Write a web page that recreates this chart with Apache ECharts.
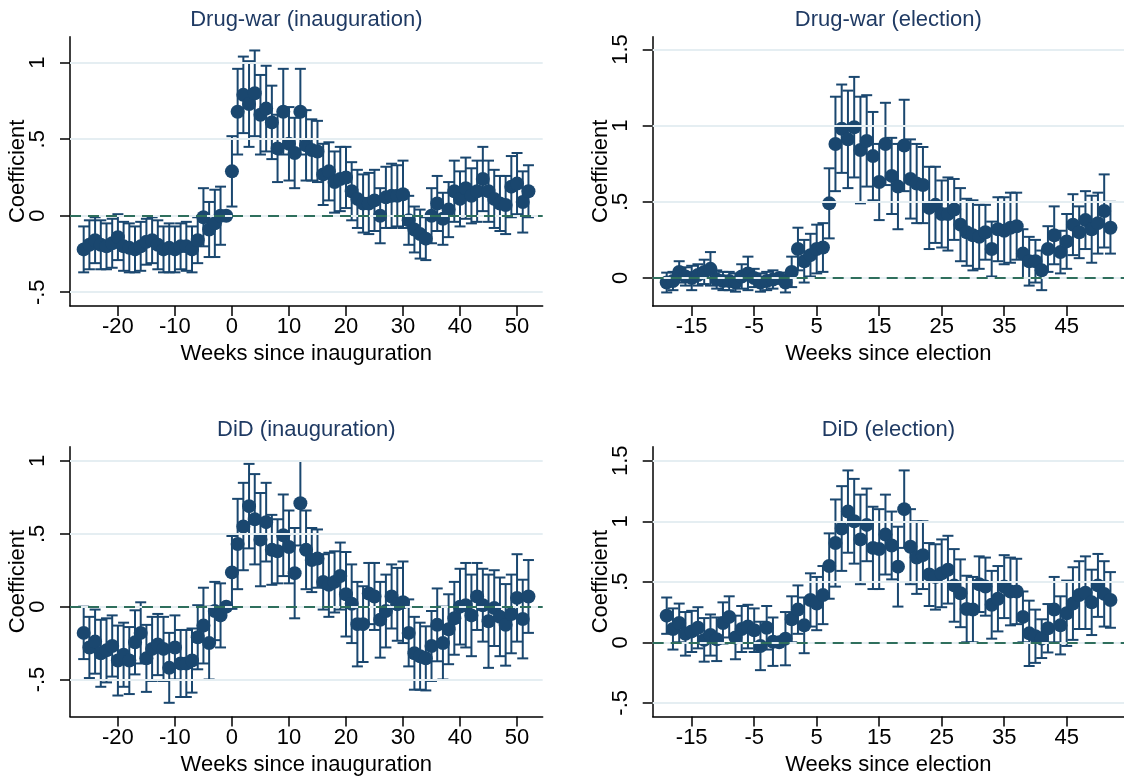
<!DOCTYPE html>
<html><head><meta charset="utf-8">
<script src="https://cdn.jsdelivr.net/npm/echarts@6/dist/echarts.min.js"></script>
<style>html,body{margin:0;padding:0;background:#fff}#c{width:1124px;height:780px}</style>
</head><body><div id="c"></div><script>
// ---------- data ----------
const weeksInaug = [-26,-25,-24,-23,-22,-21,-20,-19,-18,-17,-16,-15,-14,-13,-12,-11,-10,-9,-8,-7,-6,-5,-4,-3,-2,-1,0,1,2,3,4,5,6,7,8,9,10,11,12,13,14,15,16,17,18,19,20,21,22,23,24,25,26,27,28,29,30,31,32,33,34,35,36,37,38,39,40,41,42,43,44,45,46,47,48,49,50,51,52];
const weeksElect = [-19,-18,-17,-16,-15,-14,-13,-12,-11,-10,-9,-8,-7,-6,-5,-4,-3,-2,-1,0,1,2,3,4,5,6,7,8,9,10,11,12,13,14,15,16,17,18,19,20,21,22,23,24,25,26,27,28,29,30,31,32,33,34,35,36,37,38,39,40,41,42,43,44,45,46,47,48,49,50,51,52];

// Drug-war (inauguration): coefficient and 95% CI half-width
const drugInaugCoef = [-0.22,-0.19,-0.16,-0.19,-0.20,-0.18,-0.14,-0.20,-0.21,-0.22,-0.20,-0.17,-0.16,-0.19,-0.22,-0.21,-0.22,-0.20,-0.20,-0.22,-0.16,-0.01,-0.09,-0.05,0.00,0.00,0.29,0.68,0.79,0.73,0.80,0.66,0.70,0.61,0.44,0.68,0.47,0.41,0.68,0.46,0.43,0.42,0.27,0.29,0.22,0.24,0.25,0.16,0.11,0.08,0.08,0.10,0.00,0.12,0.13,0.13,0.14,-0.03,-0.09,-0.12,-0.15,0.00,0.08,-0.02,0.04,0.16,0.11,0.18,0.13,0.16,0.24,0.16,0.11,0.08,0.07,0.19,0.21,0.09,0.16];
const drugInaugCI = [0.15,0.16,0.15,0.16,0.15,0.16,0.15,0.16,0.16,0.15,0.16,0.15,0.15,0.16,0.15,0.16,0.15,0.15,0.16,0.15,0.15,0.19,0.18,0.22,0.19,0.00,0.23,0.28,0.25,0.28,0.28,0.26,0.28,0.24,0.22,0.28,0.24,0.23,0.28,0.23,0.20,0.20,0.20,0.19,0.20,0.21,0.20,0.19,0.19,0.19,0.20,0.20,0.18,0.20,0.21,0.20,0.22,0.16,0.15,0.16,0.14,0.18,0.18,0.17,0.18,0.20,0.18,0.20,0.18,0.20,0.21,0.20,0.19,0.18,0.19,0.20,0.20,0.20,0.17];

// Drug-war (election)
const drugElectCoef = [-0.03,-0.02,0.04,0.01,0.00,0.02,0.04,0.06,-0.01,-0.02,-0.02,-0.03,0.01,0.03,0.00,-0.03,-0.02,-0.01,0.00,-0.03,0.04,0.19,0.11,0.15,0.19,0.20,0.49,0.88,0.98,0.91,0.99,0.84,0.90,0.80,0.63,0.88,0.67,0.60,0.87,0.65,0.62,0.61,0.46,0.48,0.42,0.42,0.45,0.35,0.30,0.28,0.27,0.30,0.19,0.32,0.31,0.33,0.34,0.16,0.11,0.11,0.05,0.19,0.28,0.17,0.24,0.35,0.30,0.38,0.32,0.36,0.44,0.33];
const drugElectCI = [0.065,0.06,0.07,0.06,0.08,0.07,0.08,0.11,0.06,0.06,0.06,0.06,0.08,0.11,0.06,0.06,0.06,0.06,0.00,0.065,0.10,0.14,0.14,0.14,0.16,0.16,0.23,0.31,0.29,0.32,0.33,0.35,0.30,0.29,0.25,0.27,0.25,0.28,0.30,0.26,0.26,0.25,0.27,0.25,0.22,0.24,0.20,0.24,0.22,0.23,0.21,0.18,0.18,0.21,0.22,0.23,0.22,0.16,0.16,0.14,0.13,0.15,0.19,0.14,0.18,0.20,0.17,0.19,0.22,0.20,0.24,0.17];

// DiD (inauguration)
const didInaugCoef = [-0.18,-0.28,-0.24,-0.32,-0.30,-0.27,-0.37,-0.33,-0.37,-0.245,-0.18,-0.355,-0.29,-0.26,-0.29,-0.42,-0.28,-0.39,-0.39,-0.37,-0.21,-0.13,-0.25,-0.03,-0.06,0.00,0.235,0.43,0.55,0.69,0.60,0.46,0.58,0.39,0.38,0.49,0.41,0.23,0.71,0.39,0.32,0.33,0.17,0.15,0.17,0.21,0.085,0.02,-0.12,-0.12,0.09,0.07,-0.09,-0.03,0.07,0.016,0.03,-0.18,-0.32,-0.34,-0.355,-0.27,-0.125,-0.25,-0.155,-0.08,0.00,0.01,-0.06,0.07,0.01,-0.10,-0.01,-0.07,-0.125,-0.05,0.06,-0.085,0.07];
const didInaugCI = [0.18,0.21,0.22,0.23,0.22,0.21,0.24,0.22,0.23,0.22,0.21,0.23,0.22,0.21,0.22,0.24,0.22,0.23,0.23,0.22,0.22,0.26,0.25,0.20,0.22,0.00,0.25,0.31,0.30,0.29,0.31,0.32,0.27,0.24,0.22,0.28,0.25,0.31,0.29,0.27,0.22,0.20,0.19,0.22,0.21,0.23,0.29,0.27,0.29,0.26,0.21,0.23,0.26,0.25,0.22,0.25,0.28,0.23,0.25,0.23,0.22,0.24,0.25,0.25,0.24,0.25,0.26,0.29,0.28,0.23,0.25,0.32,0.26,0.27,0.28,0.27,0.30,0.27,0.25];

// DiD (election)
const didElectCoef = [0.22,0.11,0.16,0.07,0.09,0.12,0.02,0.06,0.025,0.16,0.21,0.04,0.11,0.13,0.10,-0.03,0.12,0.005,0.00,0.03,0.19,0.27,0.14,0.35,0.32,0.39,0.63,0.82,0.94,1.08,1.00,0.85,0.97,0.78,0.77,0.89,0.80,0.625,1.10,0.79,0.70,0.72,0.56,0.54,0.57,0.60,0.47,0.405,0.275,0.27,0.48,0.46,0.31,0.36,0.46,0.42,0.42,0.21,0.074,0.05,0.03,0.116,0.27,0.14,0.24,0.32,0.39,0.41,0.33,0.47,0.40,0.35];
const didElectCI = [0.15,0.17,0.16,0.18,0.17,0.17,0.18,0.17,0.18,0.17,0.17,0.18,0.19,0.18,0.18,0.20,0.18,0.20,0.00,0.22,0.19,0.20,0.23,0.22,0.22,0.24,0.27,0.36,0.35,0.34,0.35,0.37,0.30,0.34,0.33,0.33,0.28,0.33,0.32,0.31,0.30,0.28,0.26,0.27,0.28,0.28,0.30,0.28,0.275,0.27,0.23,0.24,0.28,0.27,0.26,0.28,0.27,0.21,0.27,0.22,0.16,0.20,0.27,0.24,0.27,0.30,0.28,0.30,0.27,0.26,0.27,0.23];

const xTicksInaug = [-20,-10,0,10,20,30,40,50];
const xTicksElect = [-15,-5,5,15,25,35,45];
const yTicksP1 = [-0.5,0,0.5,1];
const yTicksP2 = [0,0.5,1,1.5];
const yTicksP3 = [-0.5,0,0.5,1];
const yTicksP4 = [-0.5,0,0.5,1,1.5];

const titles = ['Drug-war (inauguration)','Drug-war (election)','DiD (inauguration)','DiD (election)'];
const xNames = ['Weeks since inauguration','Weeks since election','Weeks since inauguration','Weeks since election'];
const yName = 'Coefficient';

// ---------- layout / style ----------
const FONT = '"Liberation Sans", Arial, Helvetica, sans-serif';
const NAVY = '#1a476f';
const panels = [
  {weeks: weeksInaug, coef: drugInaugCoef, ci: drugInaugCI, xt: xTicksInaug, yt: yTicksP1,
   left: 70, top: 36.7, width: 472.7, height: 269.3, xmin: -28.4, xmax: 54.5, ymin: -0.590, ymax: 1.170},
  {weeks: weeksElect, coef: drugElectCoef, ci: drugElectCI, xt: xTicksElect, yt: yTicksP2,
   left: 652.7, top: 36.7, width: 471.3, height: 269.3, xmin: -21.24, xmax: 54.17, ymin: -0.184, ymax: 1.584},
  {weeks: weeksInaug, coef: didInaugCoef, ci: didInaugCI, xt: xTicksInaug, yt: yTicksP3,
   left: 70, top: 446.7, width: 472.7, height: 269.8, xmin: -28.4, xmax: 54.5, ymin: -0.754, ymax: 1.098},
  {weeks: weeksElect, coef: didElectCoef, ci: didElectCI, xt: xTicksElect, yt: yTicksP4,
   left: 652.7, top: 446.7, width: 471.3, height: 269.8, xmin: -21.24, xmax: 54.17, ymin: -0.613, ymax: 1.616}
];

function fmtY(v) {
  let s = String(Math.round(v * 100) / 100);
  return s.replace(/^(-?)0\./, '$1.');
}

function renderErr(params, api) {
  const x = api.value(0), lo = api.value(1), hi = api.value(2);
  if (!(hi > lo)) return null;
  const a = api.coord([x, lo]), b = api.coord([x, hi]);
  const hw = 5.5;
  const st = {stroke: NAVY, lineWidth: 2, fill: null};
  return {type: 'group', children: [
    {type: 'line', shape: {x1: a[0], y1: a[1], x2: b[0], y2: b[1]}, style: st},
    {type: 'line', shape: {x1: a[0] - hw, y1: a[1], x2: a[0] + hw, y2: a[1]}, style: st},
    {type: 'line', shape: {x1: b[0] - hw, y1: b[1], x2: b[0] + hw, y2: b[1]}, style: st}
  ]};
}

const grid = [], xAxis = [], yAxis = [], series = [], graphic = [];
panels.forEach((p, i) => {
  grid.push({left: p.left, top: p.top, width: p.width, height: p.height, containLabel: false, outerBoundsMode: 'none'});
  xAxis.push({
    gridIndex: i, type: 'value', min: p.xmin, max: p.xmax,
    axisLine: {show: true, onZero: false, lineStyle: {color: '#000', width: 1.5}},
    axisTick: {show: true, length: 10, customValues: p.xt, lineStyle: {color: '#000', width: 1.5}},
    axisLabel: {show: true, customValues: p.xt, fontSize: 22, fontFamily: FONT, color: '#000', margin: 10},
    splitLine: {show: false}
  });
  yAxis.push({
    gridIndex: i, type: 'value', min: p.ymin, max: p.ymax,
    axisLine: {show: true, onZero: false, lineStyle: {color: '#000', width: 1.5}},
    axisTick: {show: true, length: 10, customValues: p.yt, lineStyle: {color: '#000', width: 1.5}},
    axisLabel: {show: true, customValues: p.yt, rotate: 90, fontSize: 22, fontFamily: FONT, color: '#000', margin: 21, formatter: fmtY},
    splitLine: {show: false}
  });
  const gridLines = p.yt.map(v => ({yAxis: v, lineStyle: {color: '#e5eef2', width: 2, type: 'solid'}}));
  gridLines.push({yAxis: 0, lineStyle: {color: '#2f6f5d', width: 1.8, type: [11, 7]}});
  series.push({
    type: 'scatter', xAxisIndex: i, yAxisIndex: i, z: 1, silent: true,
    symbolSize: 0, data: p.weeks.map((w, k) => [w, p.coef[k]]),
    markLine: {silent: true, symbol: 'none', label: {show: false}, data: gridLines}
  });
  series.push({
    type: 'custom', xAxisIndex: i, yAxisIndex: i, z: 2,
    renderItem: renderErr, encode: {x: 0, y: [1, 2]},
    data: p.weeks.map((w, k) => [w, p.coef[k] - p.ci[k], p.coef[k] + p.ci[k]])
  });
  series.push({
    type: 'scatter', xAxisIndex: i, yAxisIndex: i, z: 3,
    symbol: 'circle', symbolSize: 14, itemStyle: {color: NAVY, opacity: 1},
    data: p.weeks.map((w, k) => [w, p.coef[k]])
  });
  const cx = p.left + p.width / 2;
  graphic.push({type: 'text', x: cx, y: p.top - 17, style: {text: titles[i], font: '22px ' + FONT, fill: '#1f3a63', align: 'center', verticalAlign: 'middle'}});
  graphic.push({type: 'text', x: cx, y: p.top + p.height + 48, style: {text: xNames[i], font: '22px ' + FONT, fill: '#000', align: 'center', verticalAlign: 'middle'}});
  graphic.push({type: 'text', x: p.left - 52, y: p.top + p.height / 2, rotation: Math.PI / 2, style: {text: yName, font: '22px ' + FONT, fill: '#000', align: 'center', verticalAlign: 'middle'}});
});

const chart = echarts.init(document.getElementById('c'), null, {renderer: 'canvas'});
chart.setOption({
  backgroundColor: '#ffffff', animation: false,
  grid, xAxis, yAxis, series, graphic
});
</script></body></html>
